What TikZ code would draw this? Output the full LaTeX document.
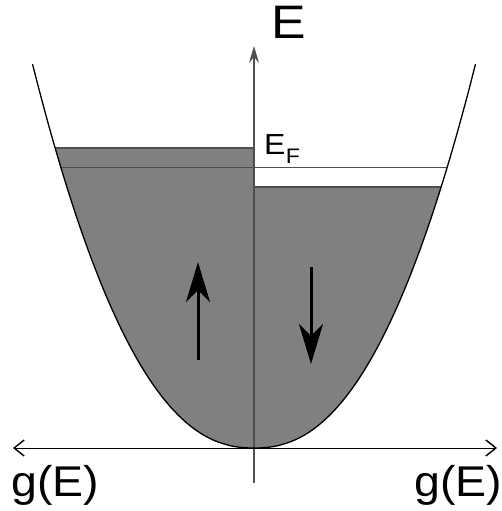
\documentclass[tikz,border=0pt]{standalone}
\usepackage{fontspec}
\setmainfont{Liberation Sans}
\usetikzlibrary{arrows.meta}
\definecolor{fillg}{HTML}{808080}
\definecolor{edgeg}{HTML}{4F4F4F}
\tikzset{
  areafill/.style={fill=fillg},
  edgeline/.style={draw=edgeg, line width=1.8pt},
  curveline/.style={draw=black, line width=1.3pt},
  haxis/.style={draw=black, line width=1pt, {Straight Barb[length=10pt,width=16pt,line width=1.4pt]}-{Straight Barb[length=10pt,width=16pt,line width=1.4pt]}},
  vaxis/.style={draw=edgeg, line width=1.4pt, -{Stealth[length=17pt,width=10pt,inset=6pt]}},
  spin/.style={draw=black, line width=3pt, -{Stealth[length=40pt,width=24pt,inset=12pt]}},
  lbl/.style={anchor=base west, inner sep=0pt},
  declare function={dyf(\u)=384*pow(\u/221.5,2.29);}
}
\begin{document}
\begin{tikzpicture}[x=1pt,y=-1pt]
\useasboundingbox (0,0) rectangle (502,511);
% filled regions
\fill[areafill] (254,448) -- plot[domain=0.3:198.9, samples=150] ({254-\x},{448-dyf(\x)}) -- (254,148) -- cycle;
\fill[areafill] (254,448) -- plot[domain=0.3:187.1, samples=150] ({254+\x},{448-dyf(\x)}) -- (254,187) -- cycle;
% edges
\coordinate (lt1) at (55,148);  \coordinate (lt2) at (254,148);
\coordinate (ef1) at (61,167.5); \coordinate (ef2) at (447,167.5);
\coordinate (rt1) at (254,187); \coordinate (rt2) at (441,187);
\draw[edgeline] (lt1) -- (lt2);
\draw[edgeline] (ef1) -- (ef2);
\draw[edgeline] (rt1) -- (rt2);
% axes
\coordinate (xl) at (13,448); \coordinate (xr) at (497,448);
\coordinate (yb) at (254,483); \coordinate (yt) at (254,46);
\draw[vaxis] (yb) -- (yt);
\draw[haxis] (xl) -- (xr);
% parabola
\draw[curveline] plot[domain=-221.5:221.5, samples=200] ({254+\x},{448-dyf(abs(\x))});
% spin arrows
\coordinate (ua1) at (198,360); \coordinate (ua2) at (198,262);
\coordinate (da1) at (311,267); \coordinate (da2) at (311,364);
\draw[spin] (ua1) -- (ua2);
\draw[spin] (da1) -- (da2);
% labels
\node[lbl] (lE) at (271,39) {\fontsize{47}{47}\selectfont\scalebox{1.1}[1]{E}};
\node[lbl] (lEF) at (264,154) {\fontsize{29}{29}\selectfont\scalebox{1.1}[1]{E}\kern0.5pt\raisebox{-9pt}{\fontsize{21}{21}\selectfont\scalebox{1.1}[1]{F}}};
\node[lbl] (lgl) at (11,496) {\fontsize{43}{43}\selectfont\scalebox{1.08}[1]{g(E)}};
\node[lbl] (lgr) at (414,496) {\fontsize{43}{43}\selectfont\scalebox{1.08}[1]{g(E)}};
\end{tikzpicture}
\end{document}
